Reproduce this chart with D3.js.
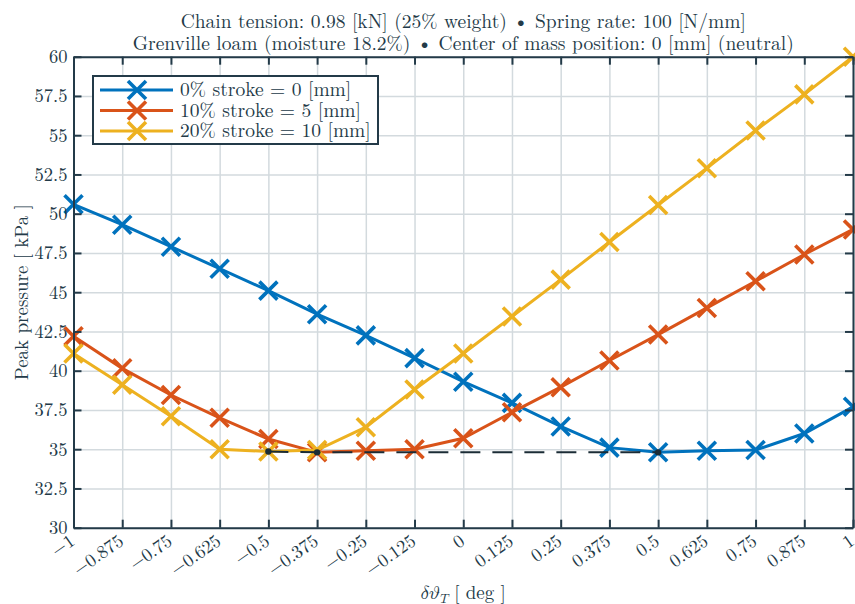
<!DOCTYPE html>
<html>
<head>
<meta charset="utf-8">
<script src="https://cdn.jsdelivr.net/npm/d3@7"></script>
<style>
    body { margin: 0; background: #fff; }
    svg text { font-family: "Latin Modern Roman", "Liberation Serif", serif; fill: #233a48; }
</style>
</head>
<body>
<svg id="chart" width="855" height="604"></svg>
<script>

/*************************************************************************/

const dTheta = [-1, -0.875, -0.75, -0.625, -0.5, -0.375, -0.25, -0.125, 0,
                0.125, 0.25, 0.375, 0.5, 0.625, 0.75, 0.875, 1];

const stroke0  = [50.6, 49.3, 47.9, 46.5, 45.1, 43.6, 42.25, 40.8, 39.3,
                  37.95, 36.45, 35.1, 34.8, 34.9, 34.95, 36.0, 37.7];
const stroke5  = [42.2, 40.15, 38.45, 37.0, 35.65, 34.8, 34.9, 35.0, 35.7,
                  37.35, 38.95, 40.65, 42.3, 44.0, 45.7, 47.4, 49.0];
const stroke10 = [41.1, 39.1, 37.1, 35.0, 34.85, 34.95, 36.4, 38.8, 41.1,
                  43.45, 45.8, 48.2, 50.55, 52.9, 55.3, 57.6, 60.0];

const seriesNames  = ['0% stroke = 0 [mm]', '10% stroke = 5 [mm]', '20% stroke = 10 [mm]'];
const seriesColors = ['#0072bd', '#d95319', '#edb120'];

// minimum of each curve, joined by the dashed line
const minX = [-0.5, -0.375, 0.5];
const minY = [34.85, 34.8, 34.8];

const xTicks  = [-1, -0.875, -0.75, -0.625, -0.5, -0.375, -0.25, -0.125, 0,
                 0.125, 0.25, 0.375, 0.5, 0.625, 0.75, 0.875, 1];
const xLabels = ['\u22121', '\u22120.875', '\u22120.75', '\u22120.625', '\u22120.5',
                 '\u22120.375', '\u22120.25', '\u22120.125', '0', '0.125', '0.25',
                 '0.375', '0.5', '0.625', '0.75', '0.875', '1'];
const yTicks  = [30, 32.5, 35, 37.5, 40, 42.5, 45, 47.5, 50, 52.5, 55, 57.5, 60];
const yLabels = ['30', '32.5', '35', '37.5', '40', '42.5', '45', '47.5', '50',
                 '52.5', '55', '57.5', '60'];

const titleLines = [
    'Chain tension: 0.98 [kN] (25% weight) \u2022 Spring rate: 100 [N/mm]',
    'Grenville loam (moisture 18.2%) \u2022 Center of mass position: 0 [mm] (neutral)'
];

/*************************************************************************/

const ink = '#233a48';
const box = { left: 73.5, right: 853, top: 56.7, bottom: 527.7 };

const svg = d3.select('#chart');

const x = d3.scaleLinear().domain([-1, 1]).range([box.left, box.right]);
const y = d3.scaleLinear().domain([30, 60]).range([box.bottom, box.top]);

const series = [stroke0, stroke5, stroke10].map((vals, i) => ({
    name: seriesNames[i],
    color: seriesColors[i],
    points: vals.map((v, j) => [dTheta[j], v])
}));

/*************************************************************************/

// grid
svg.append('g')
    .attr('transform', `translate(0,${box.bottom})`)
    .call(d3.axisBottom(x).tickValues(xTicks).tickFormat('')
        .tickSize(-(box.bottom - box.top)).tickSizeOuter(0))
    .call(g => g.select('.domain').remove())
    .selectAll('line').style('stroke', '#d3dade').style('stroke-width', 1.5);

svg.append('g')
    .attr('transform', `translate(${box.left},0)`)
    .call(d3.axisLeft(y).tickValues(yTicks).tickFormat('')
        .tickSize(-(box.right - box.left)).tickSizeOuter(0))
    .call(g => g.select('.domain').remove())
    .selectAll('line').style('stroke', '#d3dade').style('stroke-width', 1.5);

/*************************************************************************/

function cross(sel, s){
    sel.append('path')
        .attr('d', 'M-9,-9L9,9M-9,9L9,-9')
        .style('stroke', s)
        .style('stroke-width', 3.6)
        .style('fill', 'none');
}

const line = d3.line().x(d => x(d[0])).y(d => y(d[1]));

series.forEach(s => {
    const g = svg.append('g');
    g.append('path')
        .attr('d', line(s.points))
        .style('fill', 'none')
        .style('stroke', s.color)
        .style('stroke-width', 3);
    g.selectAll('g.mk')
        .data(s.points)
        .enter().append('g')
        .attr('class', 'mk')
        .attr('transform', d => `translate(${x(d[0])},${y(d[1])})`)
        .call(sel => cross(sel, s.color));
});

// dashed line through the minima
const minPts = minX.map((v, i) => [v, minY[i]]);
svg.append('path')
    .attr('d', line(minPts))
    .style('fill', 'none')
    .style('stroke', '#1b2c36')
    .style('stroke-width', 2)
    .style('stroke-dasharray', '20 12');

svg.append('g').selectAll('circle')
    .data(minPts)
    .enter().append('circle')
    .attr('cx', d => x(d[0]))
    .attr('cy', d => y(d[1]))
    .attr('r', 3.2)
    .style('fill', '#1b2c36');

/*************************************************************************/

// axes, ticks pointing inwards on all four sides
function styleAxis(g){
    g.attr('font-family', null).attr('font-size', null);
    g.selectAll('.domain').style('stroke', ink).style('stroke-width', 2);
    g.selectAll('.tick line').style('stroke', ink).style('stroke-width', 2);
    g.selectAll('text').style('font-size', '18.5px').style('fill', ink);
}

const xAxis = svg.append('g')
    .attr('transform', `translate(0,${box.bottom})`)
    .call(d3.axisBottom(x).tickValues(xTicks).tickFormat((d, i) => xLabels[i])
        .tickSizeInner(-8).tickSizeOuter(0))
    .call(styleAxis);

xAxis.selectAll('text')
    .attr('text-anchor', 'end')
    .attr('y', 0)
    .attr('dy', 0)
    .attr('transform', 'translate(2,16) rotate(-35)');

svg.append('g')
    .attr('transform', `translate(${box.left},0)`)
    .call(d3.axisLeft(y).tickValues(yTicks).tickFormat((d, i) => yLabels[i])
        .tickSizeInner(-8).tickSizeOuter(0).tickPadding(6))
    .call(styleAxis);

svg.append('g')
    .attr('transform', `translate(0,${box.top})`)
    .call(d3.axisTop(x).tickValues(xTicks).tickFormat('')
        .tickSizeInner(-8).tickSizeOuter(0))
    .call(styleAxis);

svg.append('g')
    .attr('transform', `translate(${box.right},0)`)
    .call(d3.axisRight(y).tickValues(yTicks).tickFormat('')
        .tickSizeInner(-8).tickSizeOuter(0))
    .call(styleAxis);

/*************************************************************************/

// legend
const legend = svg.append('g').attr('transform', 'translate(93,76)');

legend.append('rect')
    .attr('width', 285)
    .attr('height', 68)
    .style('fill', '#fff')
    .style('stroke', ink)
    .style('stroke-width', 2);

const entry = legend.selectAll('g.entry')
    .data(series)
    .enter().append('g')
    .attr('class', 'entry')
    .attr('transform', (d, i) => `translate(0,${14 + i * 20.5})`);

entry.append('line')
    .attr('x1', 7).attr('x2', 80)
    .style('stroke', d => d.color)
    .style('stroke-width', 3);

entry.each(function(d){
    d3.select(this).append('g')
        .attr('transform', 'translate(44,0)')
        .call(sel => cross(sel, d.color));
});

entry.append('text')
    .attr('x', 87)
    .attr('y', 6)
    .style('font-size', '19.5px')
    .text(d => d.name);

/*************************************************************************/

// titles and axis labels
svg.selectAll('text.title')
    .data(titleLines)
    .enter().append('text')
    .attr('class', 'title')
    .attr('x', (box.left + box.right) / 2)
    .attr('y', (d, i) => 28 + i * 22)
    .attr('text-anchor', 'middle')
    .style('font-size', '19.5px')
    .text(d => d);

svg.append('text')
    .attr('transform', `translate(28,${(box.top + box.bottom) / 2}) rotate(-90)`)
    .attr('text-anchor', 'middle')
    .style('font-size', '19px')
    .text('Peak pressure [ kPa ]');

const xl = svg.append('text')
    .attr('x', (box.left + box.right) / 2)
    .attr('y', 599)
    .attr('text-anchor', 'middle')
    .style('font-size', '19px');
xl.append('tspan').style('font-family', '"Latin Modern Math", serif')
    .text('\u{1D6FF}\u{1D717}');
xl.append('tspan').style('font-family', '"Latin Modern Math", serif').style('font-size', '13px')
    .attr('dy', 4).text('\u{1D447}');
xl.append('tspan').attr('dy', -4).text(' [ deg ]');

/*************************************************************************/
</script>
</body>
</html>
